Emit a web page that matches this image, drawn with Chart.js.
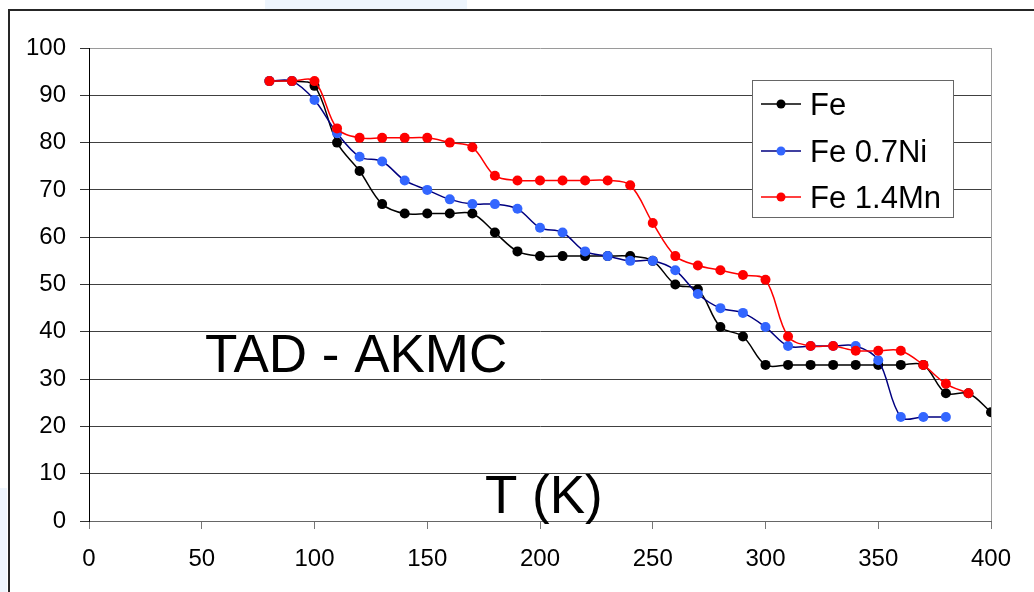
<!DOCTYPE html>
<html>
<head>
<meta charset="utf-8">
<title>TAD - AKMC</title>
<script src="https://cdn.jsdelivr.net/npm/chart.js@4.4.1/dist/chart.umd.min.js"></script>
<style>
  html, body { margin: 0; padding: 0; background: #ffffff; }
  #wrap { width: 1034px; height: 592px; }
</style>
</head>
<body>
<div id="wrap"><canvas id="chart" width="1034" height="592"></canvas></div>
<script>
// Temperatures (K) sampled every 10 K
const temperatures = [80, 90, 100, 110, 120, 130, 140, 150, 160, 170, 180, 190, 200, 210, 220, 230,
                      240, 250, 260, 270, 280, 290, 300, 310, 320, 330, 340, 350, 360, 370, 380, 390, 400];

// Series values, one per temperature starting at 80 K
const feValues   = [93, 93, 92, 80, 74, 67, 65, 65, 65, 65, 61, 57, 56, 56, 56, 56,
                    56, 55, 50, 49, 41, 39, 33, 33, 33, 33, 33, 33, 33, 33, 27, 27, 23];
const feNiValues = [93, 93, 89, 82, 77, 76, 72, 70, 68, 67, 67, 66, 62, 61, 57, 56,
                    55, 55, 53, 48, 45, 44, 41, 37, 37, 37, 37, 34, 22, 22, 22];
const feMnValues = [93, 93, 93, 83, 81, 81, 81, 81, 80, 79, 73, 72, 72, 72, 72, 72,
                    71, 63, 56, 54, 53, 52, 51, 39, 37, 37, 36, 36, 36, 33, 29, 27];

const seriesNames = ['Fe', 'Fe 0.7Ni', 'Fe 1.4Mn'];

// Axis tick labels
const xTickValues = [0, 50, 100, 150, 200, 250, 300, 350, 400];
const yTickValues = [0, 10, 20, 30, 40, 50, 60, 70, 80, 90, 100];

const FONT = '"Liberation Sans", Arial, Helvetica, sans-serif';

function toPoints(values) {
  return values.map((v, i) => ({ x: temperatures[i], y: v }));
}

// Page background, light panel patches and the outer frame
const framePlugin = {
  id: 'frame',
  beforeDraw(chart) {
    const ctx = chart.ctx;
    ctx.save();
    ctx.fillStyle = '#ffffff';
    ctx.fillRect(0, 0, chart.width, chart.height);
    ctx.fillStyle = '#eef5fd';
    ctx.fillRect(265, 0, 202, 9);
    ctx.fillRect(0, 488, 7, 104);
    ctx.strokeStyle = '#262626';
    ctx.lineWidth = 2;
    ctx.beginPath();
    ctx.moveTo(9, chart.height + 5);
    ctx.lineTo(9, 10);
    ctx.lineTo(chart.width + 5, 10);
    ctx.stroke();
    ctx.restore();
  },
  beforeDatasetsDraw(chart) {
    // plot area border on the right side
    const a = chart.chartArea;
    const ctx = chart.ctx;
    ctx.save();
    ctx.strokeStyle = '#9a9a9a';
    ctx.lineWidth = 1;
    ctx.beginPath();
    ctx.moveTo(Math.round(a.right) + 0.5, a.top);
    ctx.lineTo(Math.round(a.right) + 0.5, a.bottom);
    ctx.stroke();
    ctx.restore();
  }
};

// Text labels inside the plot and the boxed legend
const labelsPlugin = {
  id: 'labels',
  afterDatasetsDraw(chart) {
    const ctx = chart.ctx;
    ctx.save();
    ctx.fillStyle = '#000000';
    ctx.textAlign = 'left';
    ctx.textBaseline = 'alphabetic';
    ctx.font = '53px ' + FONT;
    ctx.fillText('TAD - AKMC', 205, 372);
    ctx.fillText('T (K)', 485, 513);

    // legend box
    const bx = 752, by = 80, bw = 201, bh = 137;
    ctx.fillStyle = '#ffffff';
    ctx.fillRect(bx, by, bw, bh);
    ctx.strokeStyle = '#666666';
    ctx.lineWidth = 1;
    ctx.strokeRect(bx + 0.5, by + 0.5, bw, bh);

    const rowY = [104, 151, 197];
    chart.data.datasets.forEach((ds, i) => {
      const y = rowY[i];
      ctx.strokeStyle = ds.borderColor;
      ctx.lineWidth = 1.5;
      ctx.beginPath();
      ctx.moveTo(761, y);
      ctx.lineTo(801, y);
      ctx.stroke();
      ctx.fillStyle = ds.pointBackgroundColor;
      ctx.beginPath();
      ctx.arc(781, y, 4.5, 0, Math.PI * 2);
      ctx.fill();
      ctx.fillStyle = '#000000';
      ctx.font = '31px ' + FONT;
      ctx.fillText(ds.label, 810, y + 11);
    });
    ctx.restore();
  }
};

new Chart(document.getElementById('chart'), {
  type: 'line',
  data: {
    datasets: [
      {
        label: seriesNames[0],
        data: toPoints(feValues),
        borderColor: '#000000',
        pointBackgroundColor: '#000000',
        pointBorderColor: '#000000',
        order: 3
      },
      {
        label: seriesNames[1],
        data: toPoints(feNiValues),
        borderColor: '#000080',
        pointBackgroundColor: '#3366ff',
        pointBorderColor: '#3366ff',
        order: 2
      },
      {
        label: seriesNames[2],
        data: toPoints(feMnValues),
        borderColor: '#ff0000',
        pointBackgroundColor: '#ff0000',
        pointBorderColor: '#ff0000',
        order: 1
      }
    ]
  },
  options: {
    responsive: false,
    animation: false,
    devicePixelRatio: 1,
    layout: { padding: { top: 48, right: 43, left: 0, bottom: 0 } },
    elements: {
      line: { borderWidth: 1.5, tension: 0.35, fill: false },
      point: { radius: 5, borderWidth: 0, hoverRadius: 5 }
    },
    plugins: {
      legend: { display: false },
      tooltip: { enabled: false }
    },
    scales: {
      x: {
        type: 'linear',
        min: 0,
        max: 400,
        afterBuildTicks(scale) { scale.ticks = xTickValues.map(v => ({ value: v })); },
        afterFit(scale) { scale.height = 71; },
        grid: {
          drawOnChartArea: false,
          drawTicks: true,
          tickLength: 8,
          tickColor: '#777777'
        },
        border: { color: '#666666', width: 1 },
        ticks: {
          autoSkip: false,
          maxRotation: 0,
          padding: 16,
          color: '#000000',
          font: { family: FONT, size: 24 }
        }
      },
      y: {
        min: 0,
        max: 100,
        afterBuildTicks(scale) { scale.ticks = yTickValues.map(v => ({ value: v })); },
        afterFit(scale) { scale.width = 89; },
        grid: {
          color: ctx => (ctx.tick && ctx.tick.value === 100 ? '#9a9a9a' : '#404040'),
          lineWidth: 1,
          drawTicks: true,
          tickLength: 9,
          tickColor: '#333333'
        },
        border: { color: '#000000', width: 1 },
        ticks: {
          autoSkip: false,
          padding: 14,
          color: '#000000',
          font: { family: FONT, size: 24 }
        }
      }
    }
  },
  plugins: [framePlugin, labelsPlugin]
});
</script>
</body>
</html>
